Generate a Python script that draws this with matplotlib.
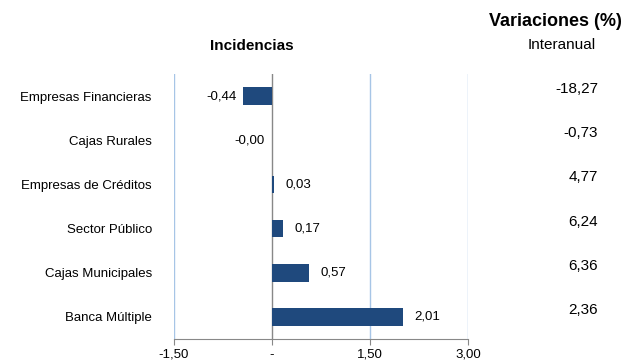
import matplotlib
matplotlib.use("Agg")
import matplotlib.pyplot as plt

plt.rcParams['font.family'] = ['Liberation Sans', 'DejaVu Sans']

categories = ["Empresas Financieras", "Cajas Rurales", "Empresas de Créditos",
              "Sector Público", "Cajas Municipales", "Banca Múltiple"]
incidencias = [-0.44, -0.001, 0.03, 0.17, 0.57, 2.01]
variaciones = [-18.27, -0.73, 4.77, 6.24, 6.36, 2.36]
xticks = [-1.5, 0.0, 1.5, 3.0]
xticklabels = ["-1,50", "-", "1,50", "3,00"]

def fmt(v):
    s = f"{v:.2f}".replace(".", ",")
    if s == "0,00" and v < 0:
        s = "-0,00"
    return s

fig = plt.figure(figsize=(6.3, 3.64), dpi=100)
ax = fig.add_axes([174/630, 25/364, 294/630, 265/364])

ypos = list(range(len(categories)))
ax.barh(ypos, incidencias, height=0.4, color="#1F497D", linewidth=0, zorder=3)
ax.set_ylim(len(categories) - 0.5, -0.5)
ax.set_xlim(-1.5, 3.0)
ax.set_xticks(xticks)
ax.set_xticklabels(xticklabels, fontsize=9.5)
ax.set_yticks(ypos)
ax.set_yticklabels(categories, fontsize=9.5)
ax.tick_params(axis='y', length=0, pad=16)
ax.tick_params(axis='x', length=4, color="#888888", pad=3)

for s in ['top', 'right', 'left']:
    ax.spines[s].set_visible(False)
ax.spines['bottom'].set_color("#888888")

for xv in xticks:
    if xv == 0:
        ax.axvline(xv, color="#888888", lw=1, zorder=2)
    else:
        ax.axvline(xv, color="#A7C5E6", lw=1, zorder=1)

for y, v in zip(ypos, incidencias):
    if v < 0:
        ax.annotate(fmt(v), (v, y), xytext=(-5, 0), textcoords='offset points',
                    ha='right', va='center', fontsize=9.5)
    else:
        ax.annotate(fmt(v), (v, y), xytext=(8, 0), textcoords='offset points',
                    ha='left', va='center', fontsize=9.5)

for y, v in zip(ypos, variaciones):
    ax.annotate(fmt(v), (1.0, y), xycoords=('figure fraction', 'data'),
                xytext=(-23, 5), textcoords='offset points',
                ha='right', va='center', fontsize=11)

fig.text(252/630, 1 - 46/364, "Incidencias", ha='center', va='center',
         fontsize=11, fontweight='bold')
fig.text(555/630, 1 - 22/364, "Variaciones (%)", ha='center', va='center',
         fontsize=13, fontweight='bold')
fig.text(562/630, 1 - 45/364, "Interanual", ha='center', va='center', fontsize=11)

fig.savefig("out.png", dpi=100)
